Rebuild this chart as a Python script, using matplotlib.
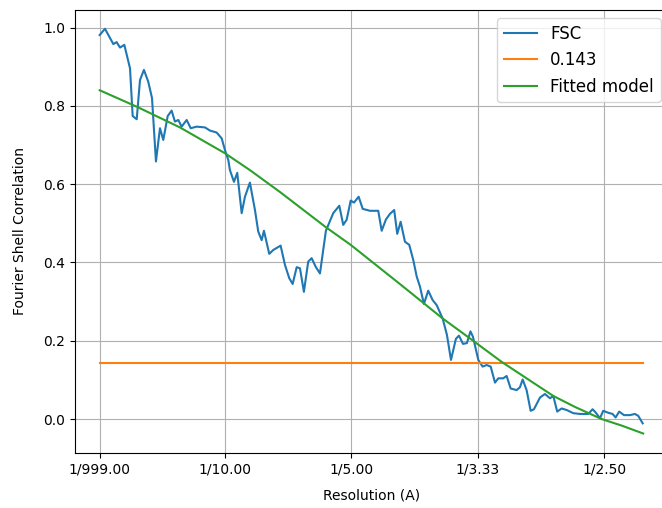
import matplotlib
matplotlib.use("Agg")
import matplotlib.pyplot as plt

# -----------------------------
# Data (spatial frequency 1/A)
# -----------------------------

fsc_freq = [
    0.0010, 0.0052, 0.0118, 0.0144, 0.0171, 0.0205, 0.0250, 0.0271, 0.0303, 0.0329,
    0.0360, 0.0394, 0.0424, 0.0455, 0.0487, 0.0513, 0.0548, 0.0579, 0.0605, 0.0632,
    0.0658, 0.0698, 0.0730, 0.0777, 0.0843, 0.0882, 0.0935, 0.0975, 0.1001, 0.1027,
    0.1040, 0.1072, 0.1098, 0.1133, 0.1159, 0.1198, 0.1238, 0.1264, 0.1291, 0.1309,
    0.1351, 0.1383, 0.1441, 0.1475, 0.1509, 0.1536, 0.1568, 0.1594, 0.1625, 0.1659,
    0.1686, 0.1720, 0.1752, 0.1799, 0.1857, 0.1905, 0.1936, 0.1963, 0.1995, 0.2021,
    0.2058, 0.2090, 0.2147, 0.2213, 0.2240, 0.2274, 0.2305, 0.2339, 0.2363, 0.2390,
    0.2424, 0.2458, 0.2490, 0.2517, 0.2543, 0.2574, 0.2608, 0.2643, 0.2675, 0.2722,
    0.2756, 0.2788, 0.2827, 0.2851, 0.2883, 0.2914, 0.2942, 0.2962, 0.3004, 0.3038,
    0.3070, 0.3102, 0.3136, 0.3162, 0.3201, 0.3228, 0.3260, 0.3307, 0.3333, 0.3355,
    0.3386, 0.3418, 0.3444, 0.3492, 0.3531, 0.3571, 0.3597, 0.3628, 0.3663, 0.3703,
    0.3755, 0.3808, 0.3873, 0.3908, 0.3934, 0.3966, 0.3992, 0.4032, 0.4066, 0.4090,
    0.4118, 0.4156, 0.4203, 0.4243, 0.4269, 0.4304,
]

fsc_values = [
    0.981, 0.997, 0.958, 0.963, 0.949, 0.956, 0.896, 0.774, 0.766, 0.866,
    0.892, 0.862, 0.820, 0.658, 0.743, 0.713, 0.774, 0.788, 0.760, 0.764,
    0.747, 0.764, 0.743, 0.747, 0.745, 0.737, 0.732, 0.717, 0.687, 0.662,
    0.636, 0.606, 0.629, 0.526, 0.568, 0.604, 0.534, 0.479, 0.457, 0.481,
    0.422, 0.432, 0.443, 0.394, 0.360, 0.345, 0.388, 0.385, 0.325, 0.402,
    0.411, 0.388, 0.372, 0.481, 0.526, 0.545, 0.496, 0.509, 0.558, 0.553,
    0.568, 0.537, 0.532, 0.532, 0.481, 0.510, 0.524, 0.534, 0.473, 0.504,
    0.453, 0.445, 0.406, 0.364, 0.338, 0.294, 0.328, 0.304, 0.291, 0.257,
    0.215, 0.151, 0.205, 0.213, 0.192, 0.194, 0.224, 0.210, 0.151, 0.134,
    0.138, 0.134, 0.093, 0.104, 0.104, 0.110, 0.078, 0.074, 0.081, 0.101,
    0.074, 0.021, 0.025, 0.055, 0.064, 0.053, 0.059, 0.019, 0.027, 0.023,
    0.015, 0.013, 0.013, 0.025, 0.016, 0.002, 0.021, 0.016, 0.013, 0.004,
    0.019, 0.010, 0.010, 0.013, 0.008, -0.011,
]

model_freq = [0.0010, 0.0303, 0.0645, 0.1001, 0.1198, 0.1436, 0.1799, 0.1995, 0.2384,
              0.2722, 0.2938, 0.3189, 0.3597, 0.3768, 0.3979, 0.4140, 0.4308]
model_values = [0.840, 0.798, 0.745, 0.679, 0.636, 0.580, 0.490, 0.445, 0.345,
                0.257, 0.206, 0.146, 0.059, 0.031, 0.000, -0.017, -0.037]

threshold = 0.143

tick_freq = [0.001, 0.1, 0.2, 0.3, 0.4]
tick_labels = ["1/999.00", "1/10.00", "1/5.00", "1/3.33", "1/2.50"]

# -----------------------------
# Plot
# -----------------------------

fig = plt.figure(figsize=(6.62, 5.08), dpi=100)
ax = fig.add_axes([75 / 662, 55.3 / 508, (669 - 75) / 662, 442.7 / 508])

ax.plot(fsc_freq, fsc_values, label="FSC")
ax.plot([fsc_freq[0], fsc_freq[-1]], [threshold, threshold], label="0.143")
ax.plot(model_freq, model_values, label="Fitted model")

ax.set_xticks(tick_freq)
ax.set_xticklabels(tick_labels)
ax.set_xlim(-0.0185, 0.4512)
ax.set_ylim(-0.086, 1.045)
ax.grid(True)

ax.set_xlabel("Resolution (A)", labelpad=9)
ax.set_ylabel("Fourier Shell Correlation", labelpad=12)
ax.legend(loc="upper right", fontsize=12)

fig.savefig("out.png", dpi=100)
